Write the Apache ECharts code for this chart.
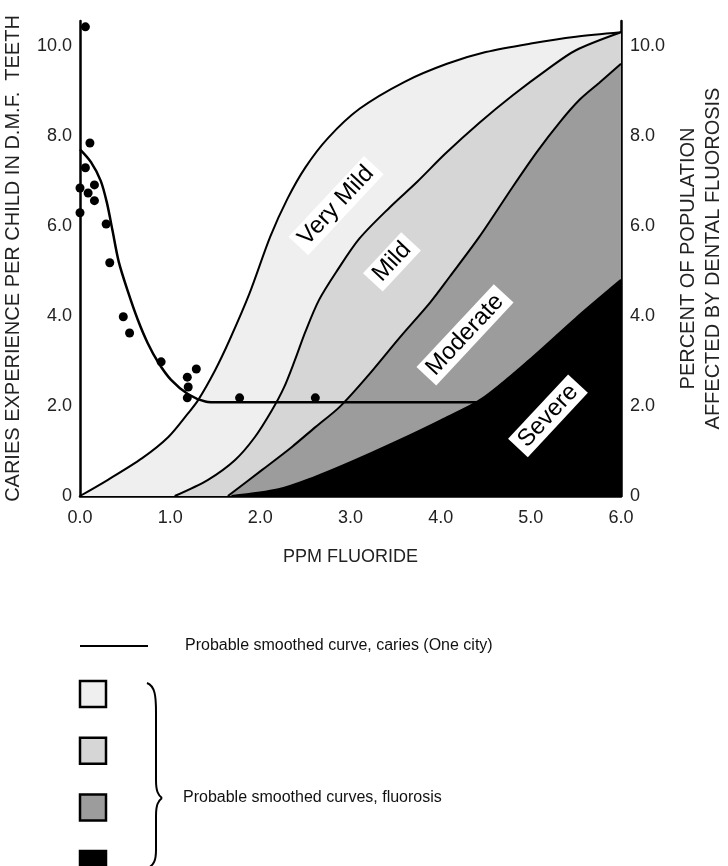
<!DOCTYPE html>
<html>
<head>
<meta charset="utf-8">
<script src="https://cdn.jsdelivr.net/npm/echarts@6/dist/echarts.min.js"></script>
<style>
  html, body { margin: 0; padding: 0; background: #fff; }
  #chart { width: 728px; height: 866px; }
</style>
</head>
<body>
<div id="chart"></div>
<script>
// x ticks (ppm fluoride) and y ticks
const xTicks = [0, 1, 2, 3, 4, 5, 6]
const yTicks = [0, 2, 4, 6, 8, 10]

// caries: observed cities (dots) and the smoothed curve
const cariesDots = [
  [0.06, 10.42], [0.11, 7.84], [0.06, 7.29], [0.0, 6.84], [0.16, 6.91],
  [0.09, 6.73], [0.16, 6.56], [0.0, 6.29], [0.29, 6.04], [0.33, 5.18],
  [0.48, 3.98], [0.55, 3.62], [0.9, 2.98], [1.29, 2.82], [1.19, 2.64],
  [1.2, 2.42], [1.19, 2.18], [1.77, 2.18], [2.61, 2.18]
]
const cariesCurve = [
  [0, 7.7], [0.12, 7.42], [0.23, 7.0], [0.3, 6.5], [0.36, 5.9], [0.43, 5.2],
  [0.53, 4.55], [0.64, 3.92], [0.75, 3.4], [0.87, 2.96], [1.01, 2.58],
  [1.2, 2.26], [1.39, 2.1], [1.55, 2.08], [4.45, 2.08]
]

// fluorosis: cumulative upper boundary of each zone
const veryMild = [
  [0, 0], [0.31, 0.36], [0.69, 0.84], [0.98, 1.31], [1.2, 1.84], [1.31, 2.13],
  [1.5, 2.8], [1.66, 3.47], [1.88, 4.5], [2.11, 5.76], [2.3, 6.6], [2.5, 7.3],
  [2.75, 7.95], [3.1, 8.6], [3.6, 9.2], [4.07, 9.6], [4.5, 9.86],
  [5.0, 10.05], [5.5, 10.2], [6, 10.3]
]
const mild = [
  [1.05, 0], [1.42, 0.36], [1.72, 0.8], [1.94, 1.31], [2.13, 1.91], [2.26, 2.4],
  [2.38, 3.0], [2.5, 3.65], [2.65, 4.35], [2.85, 5.0], [3.1, 5.72], [3.44, 6.42],
  [3.74, 6.98], [4.05, 7.6], [4.43, 8.29], [4.8, 8.9], [5.18, 9.47], [5.5, 9.9],
  [6, 10.3]
]
const moderate = [
  [1.64, 0], [2.02, 0.58], [2.35, 1.09], [2.61, 1.53], [2.88, 1.98], [3.18, 2.64],
  [3.55, 3.53], [3.88, 4.29], [4.1, 4.87], [4.43, 5.76], [4.8, 6.87], [5.07, 7.65],
  [5.32, 8.3], [5.54, 8.8], [5.76, 9.18], [6, 9.6]
]
const severe = [
  [1.68, 0], [2.2, 0.15], [2.6, 0.42], [3.0, 0.75], [3.5, 1.2], [4.0, 1.68],
  [4.45, 2.15], [5.0, 3.05], [5.5, 3.95], [6, 4.8]
]

const zoneNames = ['Very Mild', 'Mild', 'Moderate', 'Severe']
const zoneLabelAt = [[2.84, 6.45], [3.46, 5.2], [4.27, 3.58], [5.19, 1.78]]
const zoneColors = ['#efefef', '#d6d6d6', '#9c9c9c', '#000000']

const FONT = '"Liberation Sans", Arial, sans-serif'
const myChart = echarts.init(document.getElementById('chart'))

function fmt (v) {
  return v === 0 ? '0' : v.toFixed(1)
}

function zone (data, i) {
  return {
    type: 'line',
    data: data,
    smooth: 0.3,
    showSymbol: false,
    silent: true,
    lineStyle: { color: '#000', width: 2 },
    areaStyle: { color: zoneColors[i], opacity: 1 },
    z: 2 + i
  }
}

let yAxisCommon = {
  type: 'value',
  min: 0,
  max: 10.55,
  interval: 2,
  splitLine: { show: false },
  axisTick: { show: false },
  axisLine: { show: true, lineStyle: { color: '#000', width: 2.5 } },
  axisLabel: {
    color: '#222',
    fontSize: 18,
    fontFamily: FONT,
    showMaxLabel: false,
    formatter: function (v) { return yTicks.indexOf(v) >= 0 ? fmt(v) : '' }
  },
  nameLocation: 'middle',
  nameRotate: 90,
  nameTextStyle: { color: '#222', fontSize: 20, fontFamily: FONT, lineHeight: 25 }
}

// brace for the fluorosis legend, built from curve pieces
function brace () {
  let s = { stroke: '#000', lineWidth: 2, fill: 'none' }
  return [
    { type: 'bezierCurve', shape: { x1: 147, y1: 683, x2: 156, y2: 712, cpx1: 155, cpy1: 686, cpx2: 156, cpy2: 696 }, style: s },
    { type: 'line', shape: { x1: 156, y1: 712, x2: 156, y2: 780 }, style: s },
    { type: 'bezierCurve', shape: { x1: 156, y1: 780, x2: 162, y2: 798, cpx1: 156, cpy1: 791, cpx2: 158, cpy2: 795 }, style: s },
    { type: 'bezierCurve', shape: { x1: 162, y1: 798, x2: 156, y2: 816, cpx1: 158, cpy1: 801, cpx2: 156, cpy2: 805 }, style: s },
    { type: 'line', shape: { x1: 156, y1: 816, x2: 156, y2: 850 }, style: s },
    { type: 'bezierCurve', shape: { x1: 156, y1: 850, x2: 148, y2: 868, cpx1: 156, cpy1: 860, cpx2: 154, cpy2: 865 }, style: s }
  ]
}

let legendGraphic = [
  { type: 'line', shape: { x1: 80, y1: 646, x2: 148, y2: 646 }, style: { stroke: '#000', lineWidth: 2 } },
  { type: 'text', x: 185, y: 638, style: { text: 'Probable smoothed curve, caries (One city)', fill: '#111', font: '16px ' + FONT } },
  { type: 'text', x: 183, y: 790, style: { text: 'Probable smoothed curves, fluorosis', fill: '#111', font: '16px ' + FONT } }
]
for (let i = 0; i < zoneColors.length; i++) {
  legendGraphic.push({
    type: 'rect',
    shape: { x: 80, y: 681 + i * 56.7, width: 26, height: 26 },
    style: { fill: zoneColors[i], stroke: '#000', lineWidth: 2.5 }
  })
}

let option = {
  backgroundColor: '#fff',
  animation: false,
  grid: { left: 80, right: 107, top: 21, bottom: 370, containLabel: false, outerBoundsMode: 'none' },
  xAxis: {
    type: 'value',
    min: 0,
    max: 6,
    interval: 1,
    splitLine: { show: false },
    axisTick: { show: false },
    axisLine: { show: true, lineStyle: { color: '#000', width: 2.5 } },
    axisLabel: {
      color: '#222',
      fontSize: 18,
      fontFamily: FONT,
      margin: 13,
      formatter: function (v) { return xTicks.indexOf(v) >= 0 ? v.toFixed(1) : '' }
    },
    name: 'PPM FLUORIDE',
    nameLocation: 'middle',
    nameGap: 52,
    nameTextStyle: { color: '#222', fontSize: 18, fontFamily: FONT }
  },
  yAxis: [
    Object.assign({}, yAxisCommon, {
      position: 'left',
      name: 'CARIES EXPERIENCE PER CHILD IN D.M.F.  TEETH',
      nameGap: 52,
      axisLabel: Object.assign({}, yAxisCommon.axisLabel, { margin: 8 })
    }),
    Object.assign({}, yAxisCommon, {
      position: 'right',
      name: 'PERCENT OF POPULATION\nAFFECTED BY DENTAL FLUOROSIS',
      nameGap: 50,
      axisLabel: Object.assign({}, yAxisCommon.axisLabel, { margin: 9 })
    })
  ],
  series: [
    zone(veryMild, 0),
    zone(mild, 1),
    zone(moderate, 2),
    zone(severe, 3),
    {
      type: 'line',
      data: cariesCurve,
      smooth: 0.3,
      showSymbol: false,
      silent: true,
      lineStyle: { color: '#000', width: 2.5 },
      z: 10
    },
    {
      type: 'scatter',
      data: cariesDots,
      symbolSize: 9,
      itemStyle: { color: '#000', opacity: 1 },
      silent: true,
      z: 11
    },
    {
      // zone names in white boxes
      type: 'scatter',
      data: zoneLabelAt.map(function (p, i) { return { value: p, name: zoneNames[i] } }),
      symbolSize: 0,
      silent: true,
      z: 12,
      itemStyle: { opacity: 1 },
      label: {
        show: true,
        position: 'inside',
        formatter: '{b}',
        rotate: 47,
        color: '#000',
        opacity: 1,
        fontSize: 24,
        fontFamily: FONT,
        backgroundColor: '#fff',
        padding: [2, 6, 1, 6]
      }
    }
  ],
  graphic: legendGraphic.concat(brace())
}

myChart.setOption(option)
</script>
</body>
</html>
